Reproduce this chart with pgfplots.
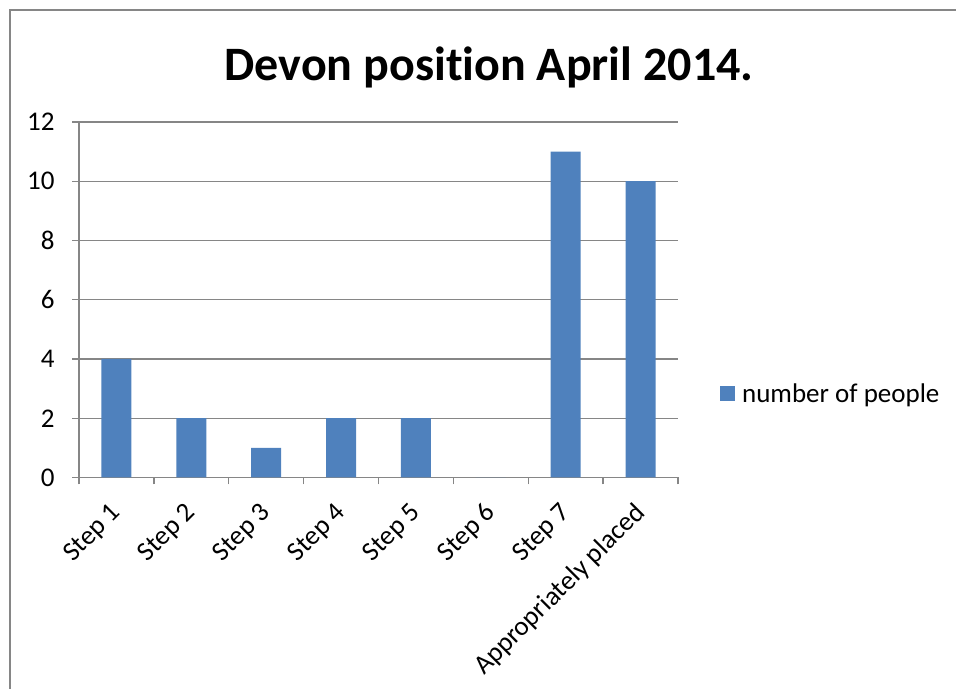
\documentclass[border=0pt]{standalone}
\usepackage{pgfplots}
\pgfplotsset{compat=1.18}
\usepackage{fontspec}
\setmainfont[Ligatures={NoCommon}]{Carlito}
\definecolor{barblue}{HTML}{4F81BD}
\definecolor{axgray}{HTML}{868686}
\begin{document}
\begin{tikzpicture}[x=1bp,y=1bp]
\useasboundingbox (0,0) rectangle (956,689);
\draw[axgray, line width=2bp] (10,-5) -- (10,679) -- (970,679);
\node[anchor=base, font=\fontsize{48bp}{56bp}\selectfont\bfseries] at (489,608) {Devon position April 2014.};
\begin{axis}[
  at={(79bp,211.5bp)}, anchor=south west,
  scale only axis, width=599bp, height=355.5bp,
  xmin=-0.5, xmax=7.5, ymin=0, ymax=12,
  axis x line*=bottom, axis y line*=left,
  axis line style={axgray, line width=1.3bp, -},
  ytick={0,2,...,12},
  ymajorgrids, grid style={axgray, line width=1.3bp},
  xtick={0,...,7},
  xticklabels={Step 1,Step 2,Step 3,Step 4,Step 5,Step 6,Step 7,Appropriately placed},
  major x tick style={draw=none},
  minor xtick={-0.5,0.5,...,7.5},
  minor tick length=7bp, major tick length=7bp,
  tick align=outside,
  tick style={axgray, line width=1.3bp},
  /pgf/number format/assume math mode=true,
  tick label style={font=\fontsize{27bp}{32bp}\selectfont, black},
  yticklabel style={xshift=-14bp},
  xticklabel style={xshift=3bp, yshift=-22bp, rotate=45, anchor=east},
  legend style={at={(1.07,0.235)}, anchor=west, draw=none, fill=none,
    font=\fontsize{27bp}{32bp}\selectfont, inner sep=0pt, column sep=0pt},
  legend image code/.code={\fill[barblue] (0bp,-7.5bp) rectangle (15bp,7.5bp);},
  legend cell align=left,
]
\addplot[ybar, bar width=30bp, fill=barblue, draw=none] coordinates {
(0,4) (1,2) (2,1) (3,2) (4,2) (5,0) (6,11) (7,10)};
\addlegendentry{\hspace{5bp}number of people}
\end{axis}
\end{tikzpicture}
\end{document}
